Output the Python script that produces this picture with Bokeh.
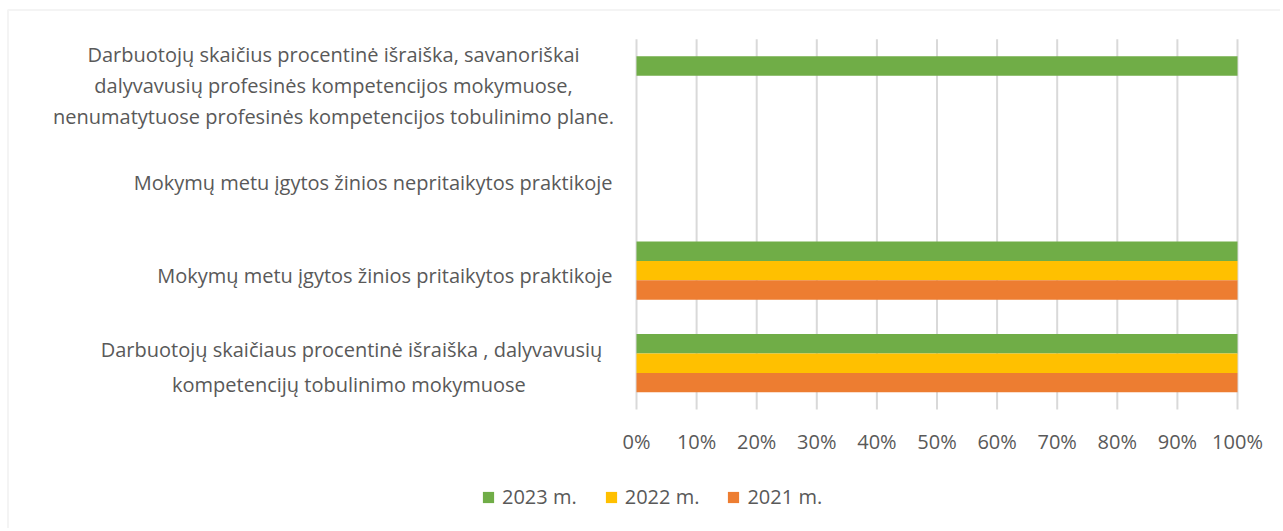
from bokeh.plotting import figure
from bokeh.models import ColumnDataSource, Range1d, Label, Legend, LegendItem, BoxAnnotation
from bokeh.transform import dodge
from bokeh.core.properties import value
from bokeh.embed import file_html
from bokeh.resources import INLINE

# categories bottom -> top
categories = [
    "Darbuotojų skaičiaus procentinė išraiška , dalyvavusių kompetencijų  tobulinimo mokymuose",
    "Mokymų metu įgytos žinios pritaikytos praktikoje",
    "Mokymų metu įgytos žinios nepritaikytos praktikoje",
    "Darbuotojų skaičius procentinė išraiška, savanoriškai dalyvavusių profesinės kompetencijos mokymuose, nenumatytuose profesinės kompetencijos tobulinimo plane.",
]
label_lines = [
    ["Darbuotojų skaičiaus procentinė išraiška , dalyvavusių", "kompetencijų  tobulinimo mokymuose"],
    ["Mokymų metu įgytos žinios pritaikytos praktikoje"],
    ["Mokymų metu įgytos žinios nepritaikytos praktikoje"],
    ["Darbuotojų skaičius procentinė išraiška, savanoriškai",
     "dalyvavusių profesinės kompetencijos mokymuose,",
     "nenumatytuose profesinės kompetencijos tobulinimo plane."],
]
series_names = ["2023 m.", "2022 m.", "2021 m."]
v2023 = [1.0, 1.0, 0.0, 1.0]
v2022 = [1.0, 1.0, 0.0, 0.0]
v2021 = [1.0, 1.0, 0.0, 0.0]
x_ticks = [0.0, 0.1, 0.2, 0.3, 0.4, 0.5, 0.6, 0.7, 0.8, 0.9, 1.0]
tick_labels = ["0%", "10%", "20%", "30%", "40%", "50%", "60%", "70%", "80%", "90%", "100%"]

colors = ["#70AD47", "#FFC000", "#ED7D31"]
FONT = "Open Sans"
TXT = "#595959"
GRID = "#d9d9d9"
FS = "20px"

W, H = 1280, 528
# plot-area geometry in pixels (0%..100% and bottom..top of the category band)
PX0, PX1 = 636.0, 1237.0
PYB, PYT = 409.0, 38.7
n = len(categories)
sx = (PX1 - PX0)
sy = (PYB - PYT) / n
def dx(px):
    return (px - PX0) / sx
def dy(py):
    return (PYB - py) / sy

ypos = [i + 0.5 for i in range(n)]
source = ColumnDataSource(dict(cat=categories, ypos=ypos, y2023=v2023, y2022=v2022, y2021=v2021))

p = figure(width=W, height=H, output_backend="svg", toolbar_location=None,
           x_range=Range1d(dx(0), dx(W)), y_range=Range1d(dy(H), dy(0)),
           min_border=0, min_border_left=0, min_border_right=0,
           min_border_top=0, min_border_bottom=0)
p.outline_line_color = None
p.axis.visible = False
p.grid.visible = False

# chart border (left and top visible)
p.add_layout(BoxAnnotation(left=dx(7.5), top=dy(9.5), right=dx(W + 50), bottom=dy(H + 50),
                           fill_alpha=0, line_color=GRID, line_width=2))

# vertical gridlines
p.segment(x0=x_ticks, y0=[0] * len(x_ticks), x1=x_ticks, y1=[n] * len(x_ticks),
          line_color=GRID, line_width=2)

bh = 0.21
r1 = p.hbar(y=dodge("ypos", bh), left=0, right="y2023", height=bh,
            source=source, fill_color=colors[0], line_color=None)
r2 = p.hbar(y=dodge("ypos", 0), left=0, right="y2022", height=bh,
            source=source, fill_color=colors[1], line_color=None)
r3 = p.hbar(y=dodge("ypos", -bh), left=0, right="y2021", height=bh,
            source=source, fill_color=colors[2], line_color=None)

# x tick labels
p.text(x=x_ticks, y=[dy(441)] * len(x_ticks), text=tick_labels, text_align="center",
       text_baseline="middle", text_font=value(FONT), text_font_size=FS, text_color=TXT)

# category labels (multi-line, centred lines, block right-aligned near the plot)
label_x = [dx(351), dx(612), dx(612), dx(333)]
label_align = ["center", "right", "right", "center"]
label_offsets = [[14, -21], [-4.5], [-4.5], [30.5, -0.5, -31.5]]
for yc, lines, lx, al, offs in zip(ypos, label_lines, label_x, label_align, label_offsets):
    for line, off in zip(lines, offs):
        p.add_layout(Label(x=lx, y=yc, y_offset=off, text=line, text_align=al,
                           text_baseline="middle", text_font=FONT,
                           text_font_size=FS, text_color=TXT))

legend = Legend(items=[LegendItem(label=series_names[0], renderers=[r1]),
                       LegendItem(label=series_names[1], renderers=[r2]),
                       LegendItem(label=series_names[2], renderers=[r3])],
                orientation="horizontal", location=(481, H - 510))
legend.border_line_color = None
legend.background_fill_alpha = 0
legend.padding = 0
legend.margin = 0
legend.spacing = 27
legend.label_standoff = 7
legend.glyph_width = 14
legend.glyph_height = 14
legend.label_height = 20
legend.label_text_font = FONT
legend.label_text_font_size = FS
legend.label_text_color = TXT
p.add_layout(legend)

open("out.html", "w").write(file_html(p, INLINE))
